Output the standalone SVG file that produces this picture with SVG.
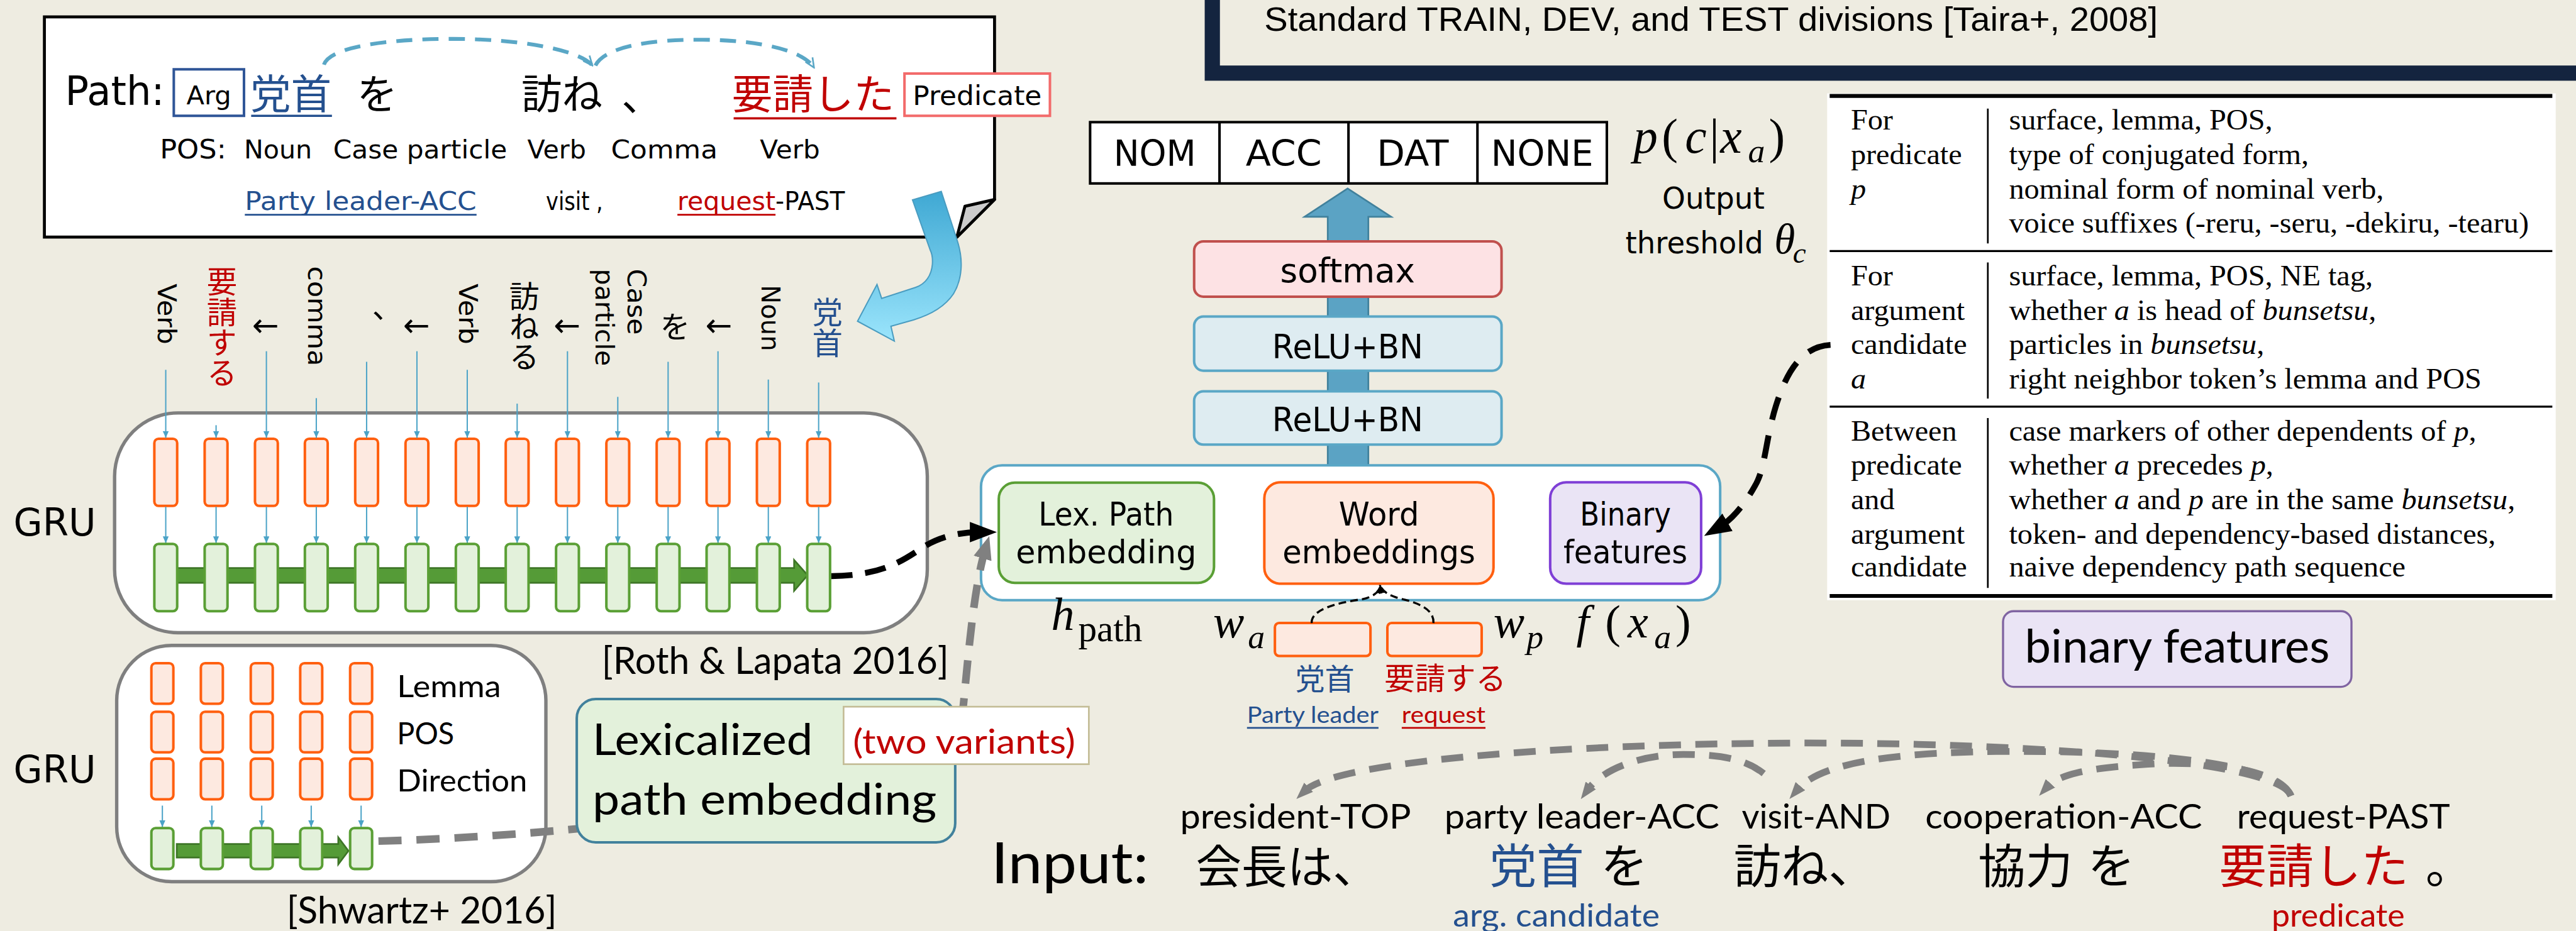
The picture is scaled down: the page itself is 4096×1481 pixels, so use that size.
<svg xmlns="http://www.w3.org/2000/svg" width="4096" height="1481" viewBox="0 0 4096 1481">
<defs>
<style>
.cg{font-family:"DejaVu Sans","Noto Sans",sans-serif}
.cb{font-family:Lato,"Open Sans",sans-serif}
.jp{font-family:"Liberation Sans","Noto Sans CJK JP",sans-serif}
.vt{font-family:"Liberation Sans","Noto Sans CJK JP",sans-serif;writing-mode:vertical-rl}
.tm{font-family:"Liberation Serif",serif}
.it{font-style:italic}
.blu{fill:#24508F}
.red{fill:#C00000}
.ob{fill:#FDE9E0;stroke:#FF5F0F;stroke-width:6}
.gb{fill:#E3F1DB;stroke:#5A9F35;stroke-width:6}
.thin{stroke:#4BA3C7;stroke-width:3;fill:none}
.grey{stroke:#808080;fill:none}
</style>
<linearGradient id="gBlue" gradientUnits="userSpaceOnUse" x1="0" y1="453" x2="0" y2="807">
<stop offset="0" stop-color="#3FA8D3"/><stop offset="1" stop-color="#9BE5FC"/>
</linearGradient>
<marker id="mB" viewBox="0 0 10 10" refX="10" refY="5" markerWidth="16" markerHeight="14" markerUnits="userSpaceOnUse" orient="auto" preserveAspectRatio="none"><path d="M0,0 L10,5 L0,10 z" fill="#4BA3C7"/></marker>
<marker id="mArc" viewBox="0 0 10 10" refX="9" refY="5" markerWidth="28" markerHeight="28" markerUnits="userSpaceOnUse" orient="auto"><path d="M1,1.5 L9,5 L1,8.5" fill="none" stroke="#5AA7C6" stroke-width="1.4"/></marker>
<marker id="mK" viewBox="0 0 10 10" refX="3.5" refY="5" markerWidth="64" markerHeight="48" markerUnits="userSpaceOnUse" orient="auto" preserveAspectRatio="none"><path d="M0,0 L10,5 L0,10 z" fill="#000"/></marker>
<marker id="mG" viewBox="0 0 10 10" refX="4" refY="5" markerWidth="55" markerHeight="44" markerUnits="userSpaceOnUse" orient="auto" preserveAspectRatio="none"><path d="M0,0 L10,5 L0,10 z" fill="#808080"/></marker>
<marker id="mGs" viewBox="0 0 10 10" refX="3" refY="5" markerWidth="40" markerHeight="30" markerUnits="userSpaceOnUse" orient="auto" preserveAspectRatio="none"><path d="M0,0 L10,5 L0,10 z" fill="#808080"/></marker>
<marker id="mKs" viewBox="0 0 10 10" refX="10" refY="5" markerWidth="20" markerHeight="16" markerUnits="userSpaceOnUse" orient="auto" preserveAspectRatio="none"><path d="M0,0 L10,5 L0,10 z" fill="#000"/></marker>
</defs>
<rect width="4096" height="1481" fill="#EEECE1"/>
<g transform="scale(0.67236)">

<!-- top-right frame -->
<g id="dataset-frame">
<rect x="2867" y="-100" width="3500" height="273" fill="none" stroke="#14243F" stroke-width="36"/>
<text x="2990" y="73" font-size="80" font-family="'Liberation Sans',sans-serif" textLength="2113" lengthAdjust="spacingAndGlyphs">Standard TRAIN, DEV, and TEST divisions [Taira+, 2008]</text>
</g>

<!-- path example note -->
<g id="path-box">
<polygon points="105,40 2352,40 2352,472 2263,561 105,561" fill="#fff" stroke="#000" stroke-width="7"/>
<polygon points="2282,488 2352,472 2263,561" fill="#CCCCCC" stroke="#000" stroke-width="7" stroke-linejoin="round"/>
<text class="cg" x="154" y="249" font-size="96" textLength="235" lengthAdjust="spacingAndGlyphs">Path:</text>
<rect x="411" y="164" width="166" height="110" fill="#fff" stroke="#2F5597" stroke-width="6"/>
<text class="cg" x="494" y="247" font-size="62" text-anchor="middle" textLength="106" lengthAdjust="spacingAndGlyphs">Arg</text>
<text class="jp blu" x="592" y="258" font-size="96">党首</text>
<line x1="594" y1="274" x2="785" y2="274" stroke="#24508F" stroke-width="5"/>
<text class="jp" x="844" y="258" font-size="96">を</text>
<text class="jp" x="1233" y="258" font-size="96">訪ね</text>
<text class="jp" x="1470" y="262" font-size="96">、</text>
<text class="jp red" x="1731" y="258" font-size="96">要請した</text>
<line x1="1735" y1="280" x2="2120" y2="280" stroke="#C00000" stroke-width="5"/>
<rect x="2139" y="174" width="344" height="100" fill="#fff" stroke="#F26B6B" stroke-width="6"/>
<text class="cg" x="2311" y="249" font-size="64" text-anchor="middle" textLength="305" lengthAdjust="spacingAndGlyphs">Predicate</text>
<text class="cg" x="378" y="375" font-size="64" textLength="157" lengthAdjust="spacingAndGlyphs">POS:</text>
<text class="cg" x="577" y="375" font-size="62" textLength="161" lengthAdjust="spacingAndGlyphs">Noun</text>
<text class="cg" x="788" y="375" font-size="62" textLength="411" lengthAdjust="spacingAndGlyphs">Case particle</text>
<text class="cg" x="1247" y="375" font-size="62" textLength="139" lengthAdjust="spacingAndGlyphs">Verb</text>
<text class="cg" x="1445" y="375" font-size="62" textLength="252" lengthAdjust="spacingAndGlyphs">Comma</text>
<text class="cg" x="1797" y="375" font-size="62" textLength="142" lengthAdjust="spacingAndGlyphs">Verb</text>
<text class="cg blu" x="579" y="497" font-size="60" textLength="548" lengthAdjust="spacingAndGlyphs">Party leader-ACC</text>
<line x1="579" y1="508" x2="1127" y2="508" stroke="#24508F" stroke-width="4"/>
<text class="cg" x="1291" y="497" font-size="60" textLength="135" lengthAdjust="spacingAndGlyphs">visit ,</text>
<text class="cg red" x="1602" y="497" font-size="60" textLength="232" lengthAdjust="spacingAndGlyphs">request</text>
<line x1="1602" y1="508" x2="1834" y2="508" stroke="#C00000" stroke-width="4"/>
<text class="cg" x="1834" y="497" font-size="60" textLength="164" lengthAdjust="spacingAndGlyphs">-PAST</text>
</g>

<g id="curved-arrow">
<path d="M2158,473 L2226,453 L2265,573 C2278,615 2276,660 2255,695 C2235,725 2200,745 2160,757 L2107,772 L2115,807 L2028,760 L2074,673 L2085,706 L2165,680 C2190,672 2203,650 2205,625 C2206,610 2204,600 2200,592 Z" fill="url(#gBlue)" stroke="#4A9CC0" stroke-width="3"/>
</g>

<!-- vertical token sequence -->
<g id="token-sequence">
<text class="cg" font-size="62" transform="translate(374,671) rotate(90)" textLength="144" lengthAdjust="spacingAndGlyphs">Verb</text>
<text class="vt red" x="519" y="630" font-size="72">要請する</text>
<text class="cg" font-size="76" x="628" y="796" text-anchor="middle">←</text>
<text class="cg" font-size="62" transform="translate(729,630) rotate(90)" textLength="236" lengthAdjust="spacingAndGlyphs">comma</text>
<text class="jp" x="880" y="753" font-size="72">、</text>
<text class="cg" font-size="76" x="985" y="796" text-anchor="middle">←</text>
<text class="cg" font-size="62" transform="translate(1085,671) rotate(90)" textLength="144" lengthAdjust="spacingAndGlyphs">Verb</text>
<text class="vt" x="1234" y="665" font-size="71">訪ねる</text>
<text class="cg" font-size="76" x="1341" y="796" text-anchor="middle">←</text>
<text class="cg" font-size="60" transform="translate(1408,636) rotate(90)" textLength="230" lengthAdjust="spacingAndGlyphs">particle</text>
<text class="cg" font-size="62" transform="translate(1484,636) rotate(90)" textLength="156" lengthAdjust="spacingAndGlyphs">Case</text>
<text class="vt" x="1590" y="737" font-size="72">を</text>
<text class="cg" font-size="76" x="1700" y="796" text-anchor="middle">←</text>
<text class="cg" font-size="62" transform="translate(1801,674) rotate(90)" textLength="157" lengthAdjust="spacingAndGlyphs">Noun</text>
<text class="vt blu" x="1951" y="703" font-size="72">党首</text>
</g>

<!-- GRU (Roth & Lapata) -->
<g id="gru-roth">
<rect x="271" y="977" width="1922" height="520" rx="150" fill="#fff" stroke="#7F7F7F" stroke-width="8"/>
<text class="cg" x="32" y="1267" font-size="90" textLength="195" lengthAdjust="spacingAndGlyphs">GRU</text>
<g class="ob">
<rect x="365" y="1038" width="54" height="159" rx="10"/><rect x="484" y="1038" width="54" height="159" rx="10"/>
<rect x="603" y="1038" width="54" height="159" rx="10"/><rect x="721" y="1038" width="54" height="159" rx="10"/>
<rect x="840" y="1038" width="54" height="159" rx="10"/><rect x="959" y="1038" width="54" height="159" rx="10"/>
<rect x="1078" y="1038" width="54" height="159" rx="10"/><rect x="1196" y="1038" width="54" height="159" rx="10"/>
<rect x="1315" y="1038" width="54" height="159" rx="10"/><rect x="1434" y="1038" width="54" height="159" rx="10"/>
<rect x="1553" y="1038" width="54" height="159" rx="10"/><rect x="1671" y="1038" width="54" height="159" rx="10"/>
<rect x="1790" y="1038" width="54" height="159" rx="10"/><rect x="1909" y="1038" width="54" height="159" rx="10"/>
</g>
<g class="thin" marker-end="url(#mB)">
<path d="M392,1199V1285"/><path d="M511,1199V1285"/><path d="M630,1199V1285"/><path d="M748,1199V1285"/>
<path d="M867,1199V1285"/><path d="M986,1199V1285"/><path d="M1105,1199V1285"/><path d="M1223,1199V1285"/>
<path d="M1342,1199V1285"/><path d="M1461,1199V1285"/><path d="M1580,1199V1285"/><path d="M1698,1199V1285"/>
<path d="M1817,1199V1285"/><path d="M1936,1199V1285"/>
</g>
<path d="M418,1344 H1878 V1325 L1910,1361 L1878,1398 V1379 H418 Z" fill="#559B37" stroke="#3D7526" stroke-width="4"/>
<g class="gb">
<rect x="365" y="1287" width="54" height="159" rx="10"/><rect x="484" y="1287" width="54" height="159" rx="10"/>
<rect x="603" y="1287" width="54" height="159" rx="10"/><rect x="721" y="1287" width="54" height="159" rx="10"/>
<rect x="840" y="1287" width="54" height="159" rx="10"/><rect x="959" y="1287" width="54" height="159" rx="10"/>
<rect x="1078" y="1287" width="54" height="159" rx="10"/><rect x="1196" y="1287" width="54" height="159" rx="10"/>
<rect x="1315" y="1287" width="54" height="159" rx="10"/><rect x="1434" y="1287" width="54" height="159" rx="10"/>
<rect x="1553" y="1287" width="54" height="159" rx="10"/><rect x="1671" y="1287" width="54" height="159" rx="10"/>
<rect x="1790" y="1287" width="54" height="159" rx="10"/><rect x="1909" y="1287" width="54" height="159" rx="10"/>
</g>
<text class="cb" x="1423" y="1594" font-size="88" textLength="821" lengthAdjust="spacingAndGlyphs">[Roth &amp; Lapata 2016]</text>
</g>

<!-- GRU (Shwartz) -->
<g id="gru-shwartz">
<rect x="276" y="1527" width="1015" height="559" rx="130" fill="#fff" stroke="#7F7F7F" stroke-width="8"/>
<text class="cg" x="32" y="1851" font-size="90" textLength="195" lengthAdjust="spacingAndGlyphs">GRU</text>
<g class="ob">
<rect x="358" y="1569" width="52" height="96" rx="10"/><rect x="475" y="1569" width="52" height="96" rx="10"/><rect x="593" y="1569" width="52" height="96" rx="10"/><rect x="710" y="1569" width="52" height="96" rx="10"/><rect x="828" y="1569" width="52" height="96" rx="10"/>
<rect x="358" y="1684" width="52" height="96" rx="10"/><rect x="475" y="1684" width="52" height="96" rx="10"/><rect x="593" y="1684" width="52" height="96" rx="10"/><rect x="710" y="1684" width="52" height="96" rx="10"/><rect x="828" y="1684" width="52" height="96" rx="10"/>
<rect x="358" y="1795" width="52" height="96" rx="10"/><rect x="475" y="1795" width="52" height="96" rx="10"/><rect x="593" y="1795" width="52" height="96" rx="10"/><rect x="710" y="1795" width="52" height="96" rx="10"/><rect x="828" y="1795" width="52" height="96" rx="10"/>
</g>
<g class="thin" marker-end="url(#mB)">
<path d="M384,1906V1957"/><path d="M501,1906V1957"/><path d="M619,1906V1957"/><path d="M736,1906V1957"/><path d="M854,1906V1957"/>
</g>
<path d="M418,1997 H800 V1981 L824,2013 L800,2045 V2029 H418 Z" fill="#559B37" stroke="#3D7526" stroke-width="4"/>
<g class="gb">
<rect x="358" y="1959" width="52" height="97" rx="10"/><rect x="475" y="1959" width="52" height="97" rx="10"/><rect x="593" y="1959" width="52" height="97" rx="10"/><rect x="710" y="1959" width="52" height="97" rx="10"/><rect x="828" y="1959" width="52" height="97" rx="10"/>
</g>
<text class="cb" x="939" y="1649" font-size="73" textLength="246" lengthAdjust="spacingAndGlyphs">Lemma</text>
<text class="cb" x="939" y="1761" font-size="73" textLength="135" lengthAdjust="spacingAndGlyphs">POS</text>
<text class="cb" x="939" y="1873" font-size="73" textLength="308" lengthAdjust="spacingAndGlyphs">Direction</text>
<text class="cb" x="678" y="2185" font-size="88" textLength="639" lengthAdjust="spacingAndGlyphs">[Shwartz+ 2016]</text>
</g>

<!-- big up arrow -->
<g id="up-arrow">
<path d="M3140,1101 V513 H3085 L3187,446 L3290,513 H3236 V1101 Z" fill="#5BA3C4" stroke="#41819C" stroke-width="4"/>
</g>

<!-- output table -->
<g id="output-table">
<rect x="2578" y="289" width="1222" height="145" fill="#fff" stroke="#000" stroke-width="6"/>
<path d="M2884,289V434M3189,289V434M3494,289V434" stroke="#000" stroke-width="6"/>
<g class="cg" font-size="84" text-anchor="middle">
<text x="2731" y="392" textLength="195" lengthAdjust="spacingAndGlyphs">NOM</text>
<text x="3036" y="392" textLength="180" lengthAdjust="spacingAndGlyphs">ACC</text>
<text x="3341" y="392" textLength="170" lengthAdjust="spacingAndGlyphs">DAT</text>
<text x="3647" y="392" textLength="242" lengthAdjust="spacingAndGlyphs">NONE</text>
</g>
<text class="tm" y="362" font-size="115"><tspan class="it" x="3863">p</tspan><tspan x="3930">(</tspan><tspan class="it" x="3985">c</tspan><tspan x="4043">|</tspan><tspan class="it" x="4068">x</tspan><tspan class="it" x="4134" y="383" font-size="80">a</tspan><tspan x="4183" y="362">)</tspan></text>
<text class="cg" x="3931" y="494" font-size="72" textLength="242" lengthAdjust="spacingAndGlyphs">Output</text>
<text class="cg" x="3844" y="600" font-size="72" textLength="326" lengthAdjust="spacingAndGlyphs">threshold</text>
<text class="tm it" x="4196" y="600" font-size="100">θ<tspan x="4240" y="621" font-size="70">c</tspan></text>
</g>

<g id="softmax">
<rect x="2824" y="571" width="727" height="131" rx="22" fill="#FDE2E4" stroke="#C0504D" stroke-width="6"/>
<text class="cg" x="3187" y="668" font-size="80" text-anchor="middle" textLength="319" lengthAdjust="spacingAndGlyphs">softmax</text>
</g>
<g id="relu-bn-2">
<rect x="2824" y="749" width="727" height="128" rx="22" fill="#DEECF1" stroke="#5AA7C6" stroke-width="6"/>
<text class="cg" x="3187" y="848" font-size="80" text-anchor="middle" textLength="357" lengthAdjust="spacingAndGlyphs">ReLU+BN</text>
</g>
<g id="relu-bn-1">
<rect x="2824" y="926" width="727" height="126" rx="22" fill="#DEECF1" stroke="#5AA7C6" stroke-width="6"/>
<text class="cg" x="3187" y="1021" font-size="80" text-anchor="middle" textLength="357" lengthAdjust="spacingAndGlyphs">ReLU+BN</text>
</g>

<g id="input-layer">
<rect x="2320" y="1101" width="1748" height="319" rx="50" fill="#fff" stroke="#5AA7C6" stroke-width="6"/>
</g>
<g id="lex-path-embedding">
<rect x="2362" y="1142" width="509" height="237" rx="38" class="gb"/>
<text class="cg" x="2616" y="1244" font-size="76" text-anchor="middle" textLength="320" lengthAdjust="spacingAndGlyphs">Lex. Path</text>
<text class="cg" x="2616" y="1333" font-size="76" text-anchor="middle" textLength="427" lengthAdjust="spacingAndGlyphs">embedding</text>
</g>
<g id="word-embeddings">
<rect x="2990" y="1141" width="542" height="240" rx="38" class="ob"/>
<text class="cg" x="3261" y="1244" font-size="76" text-anchor="middle" textLength="190" lengthAdjust="spacingAndGlyphs">Word</text>
<text class="cg" x="3261" y="1333" font-size="76" text-anchor="middle" textLength="456" lengthAdjust="spacingAndGlyphs">embeddings</text>
</g>
<g id="binary-features-box">
<rect x="3666" y="1141" width="357" height="240" rx="38" fill="#EAE4F5" stroke="#7F3FD6" stroke-width="6"/>
<text class="cg" x="3844" y="1244" font-size="76" text-anchor="middle" textLength="215" lengthAdjust="spacingAndGlyphs">Binary</text>
<text class="cg" x="3844" y="1333" font-size="76" text-anchor="middle" textLength="293" lengthAdjust="spacingAndGlyphs">features</text>
</g>

<g id="input-vectors">
<text class="tm" font-size="110"><tspan class="it" x="2486" y="1491">h</tspan><tspan x="2550" y="1517" font-size="88">path</tspan></text>
<text class="tm it" font-size="110"><tspan x="2869" y="1508">w</tspan><tspan x="2951" y="1534" font-size="80">a</tspan></text>
<rect x="3015" y="1474" width="226" height="78" rx="10" class="ob"/>
<rect x="3281" y="1474" width="223" height="78" rx="10" class="ob"/>
<text class="tm it" font-size="110"><tspan x="3532" y="1508">w</tspan><tspan x="3610" y="1534" font-size="80">p</tspan></text>
<text class="tm" font-size="110"><tspan class="it" x="3728" y="1508">f</tspan><tspan x="3796">(</tspan><tspan class="it" x="3849">x</tspan><tspan class="it" x="3912" y="1534" font-size="80">a</tspan><tspan x="3962" y="1508">)</tspan></text>
<text class="jp blu" x="3063" y="1632" font-size="70">党首</text>
<text class="jp red" x="3274" y="1632" font-size="72">要請する</text>
<text class="cb blu" x="2949" y="1711" font-size="56" textLength="311" lengthAdjust="spacingAndGlyphs">Party leader</text>
<line x1="2949" y1="1722" x2="3260" y2="1722" stroke="#24508F" stroke-width="4"/>
<text class="cb red" x="3315" y="1711" font-size="56" textLength="198" lengthAdjust="spacingAndGlyphs">request</text>
<line x1="3315" y1="1722" x2="3513" y2="1722" stroke="#C00000" stroke-width="4"/>
</g>

<!-- feature table -->
<g id="feature-table">
<rect x="4321" y="221" width="1723" height="1199" fill="#fff"/>
<path d="M4327,227H6036M4327,1410H6036" stroke="#000" stroke-width="9"/>
<path d="M4327,594H6036M4327,962H6036" stroke="#000" stroke-width="5"/>
<path d="M4701,257V576M4701,621V943M4701,989V1391" stroke="#000" stroke-width="4"/>
<g class="tm" font-size="68" transform="translate(4377,0) scale(1.055,1)">
<text x="0" y="307">For</text><text x="0" y="388">predicate</text><text x="0" y="470" class="it">p</text>
<text x="0" y="675">For</text><text x="0" y="757">argument</text><text x="0" y="838">candidate</text><text x="0" y="919" class="it">a</text>
<text x="0" y="1042">Between</text><text x="0" y="1123">predicate</text><text x="0" y="1204">and</text><text x="0" y="1286">argument</text><text x="0" y="1364">candidate</text>
</g>
<g class="tm" font-size="68" transform="translate(4751,0) scale(1.055,1)">
<text x="0" y="307">surface, lemma, POS,</text>
<text x="0" y="388">type of conjugated form,</text>
<text x="0" y="470">nominal form of nominal verb,</text>
<text x="0" y="551">voice suffixes (-reru, -seru, -dekiru, -tearu)</text>
<text x="0" y="675">surface, lemma, POS, NE tag,</text>
<text x="0" y="757">whether <tspan class="it">a</tspan> is head of <tspan class="it">bunsetsu</tspan>,</text>
<text x="0" y="838">particles in <tspan class="it">bunsetsu</tspan>,</text>
<text x="0" y="919">right neighbor token’s lemma and POS</text>
<text x="0" y="1042">case markers of other dependents of <tspan class="it">p</tspan>,</text>
<text x="0" y="1123">whether <tspan class="it">a</tspan> precedes <tspan class="it">p</tspan>,</text>
<text x="0" y="1204">whether <tspan class="it">a</tspan> and <tspan class="it">p</tspan> are in the same <tspan class="it">bunsetsu</tspan>,</text>
<text x="0" y="1286">token- and dependency-based distances,</text>
<text x="0" y="1364">naive dependency path sequence</text>
</g>
</g>
<g id="binary-features-label">
<rect x="4737" y="1446" width="824" height="179" rx="25" fill="#EAE4F5" stroke="#8064A2" stroke-width="5"/>
<text class="cb" x="5149" y="1568" font-size="110" text-anchor="middle" textLength="721" lengthAdjust="spacingAndGlyphs">binary features</text>
</g>

<!-- connectors -->
<g id="connectors">
<g stroke="#5AA7C6" stroke-width="9" stroke-dasharray="38 24" fill="none" marker-end="url(#mArc)">
<path d="M766,153 C780,110 920,92 1071,92 C1230,92 1370,118 1401,155"/>
<path d="M1408,155 C1430,110 1540,93 1662,94 C1800,95 1900,120 1925,160"/>
</g>
<g class="thin" marker-end="url(#mB)">
<path d="M392,875V1036"/><path d="M511,1006V1036"/><path d="M630,831V1036"/><path d="M748,942V1036"/>
<path d="M867,856V1036"/><path d="M986,831V1036"/><path d="M1105,875V1036"/><path d="M1223,955V1036"/>
<path d="M1342,831V1036"/><path d="M1461,939V1036"/><path d="M1580,856V1036"/><path d="M1698,831V1036"/>
<path d="M1817,898V1036"/><path d="M1936,905V1036"/>
</g>
<path d="M1966,1363 C2080,1362 2130,1330 2175,1300 C2215,1272 2265,1259 2316,1259" fill="none" stroke="#000" stroke-width="14" stroke-dasharray="50 30" marker-end="url(#mK)"/>
<path d="M895,1990 C1300,1980 2250,1900 2275,1700 C2288,1580 2300,1400 2330,1300" class="grey" stroke-width="18" stroke-dasharray="55 35" marker-end="url(#mG)"/>
<path d="M4329,816 C4260,820 4225,880 4200,960 C4175,1040 4175,1110 4150,1150 C4125,1195 4095,1230 4066,1247" fill="none" stroke="#000" stroke-width="14" stroke-dasharray="55 38" marker-end="url(#mK)"/>
<g fill="none" stroke="#000" stroke-width="5" stroke-dasharray="18 10" marker-end="url(#mKs)">
<path d="M3102,1474 C3100,1440 3170,1425 3220,1418 C3250,1412 3262,1400 3264,1384"/>
<path d="M3390,1474 C3392,1440 3350,1425 3310,1416 C3282,1408 3268,1398 3264,1384"/>
</g>
<g class="grey" stroke-width="16" stroke-dasharray="52 34" marker-end="url(#mGs)">
<path d="M5418,1883 C5390,1800 4800,1756 4243,1758 C3700,1760 3160,1800 3086,1871"/>
<path d="M4171,1830 C4120,1790 4050,1785 3981,1785 C3880,1785 3790,1820 3755,1868"/>
<path d="M5418,1883 C5380,1800 5050,1775 4720,1778 C4450,1781 4300,1810 4250,1869"/>
<path d="M5418,1883 C5390,1815 5200,1800 5080,1808 C4950,1816 4870,1830 4841,1862"/>
</g>
</g>

<g id="lexicalized-path-embedding">
<rect x="1364" y="1654" width="895" height="339" rx="45" fill="#E3F1DB" stroke="#41819C" stroke-width="6"/>
<text class="cb" x="1401" y="1786" font-size="105" textLength="521" lengthAdjust="spacingAndGlyphs">Lexicalized</text>
<text class="cb" x="1401" y="1928" font-size="105" textLength="814" lengthAdjust="spacingAndGlyphs">path embedding</text>
</g>
<g id="two-variants">
<rect x="1995" y="1672" width="580" height="136" fill="#fff" stroke="#C4BD97" stroke-width="4"/>
<text class="cb red" x="2017" y="1784" font-size="82" textLength="526" lengthAdjust="spacingAndGlyphs">(two variants)</text>
</g>

<!-- input sentence -->
<g id="input-sentence">
<text class="cb" x="2344" y="2090" font-size="135" textLength="372" lengthAdjust="spacingAndGlyphs">Input:</text>
<text class="jp" x="2828" y="2089" font-size="108">会長は、</text>
<text class="jp blu" x="3522" y="2089" font-size="112">党首</text>
<text class="jp" x="3785" y="2089" font-size="112">を</text>
<text class="jp" x="4100" y="2089" font-size="112">訪ね、</text>
<text class="jp" x="4678" y="2089" font-size="112">協力</text>
<text class="jp" x="4937" y="2089" font-size="112">を</text>
<text class="jp red" x="5248" y="2089" font-size="112">要請した</text>
<text class="jp" x="5736" y="2089" font-size="112">。</text>
<g class="cb" font-size="82">
<text x="2791" y="1961" textLength="546" lengthAdjust="spacingAndGlyphs">president-TOP</text>
<text x="3416" y="1961" textLength="650" lengthAdjust="spacingAndGlyphs">party leader-ACC</text>
<text x="4119" y="1961" textLength="352" lengthAdjust="spacingAndGlyphs">visit-AND</text>
<text x="4553" y="1961" textLength="655" lengthAdjust="spacingAndGlyphs">cooperation-ACC</text>
<text x="5290" y="1961" textLength="504" lengthAdjust="spacingAndGlyphs">request-PAST</text>
</g>
<text class="cb blu" x="3436" y="2192" font-size="76" textLength="489" lengthAdjust="spacingAndGlyphs">arg. candidate</text>
<text class="cb red" x="5372" y="2192" font-size="76" textLength="315" lengthAdjust="spacingAndGlyphs">predicate</text>
</g>

</g>
</svg>
